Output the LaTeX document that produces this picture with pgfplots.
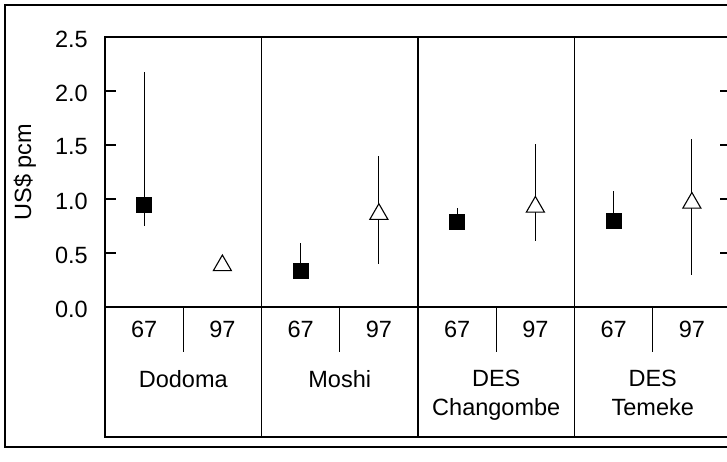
\documentclass[border=0pt]{standalone}
\usepackage{pgfplots}
\pgfplotsset{compat=1.18}
\usepackage{fontspec}
\setmainfont{Liberation Sans}
\begin{document}
\begin{tikzpicture}[x=1pt,y=1pt,font=\fontsize{23.5}{28.5}\selectfont]
\begin{axis}[
  at={(105pt,-307pt)}, anchor=south west,
  scale only axis, width=626pt, height=270pt,
  xmin=0, xmax=8, ymin=0, ymax=2.5,
  clip=false,
  axis line style={line width=1.3pt, black},
  ytick={0,0.5,1,1.5,2,2.5},
  tick align=inside, major tick length=11pt,
  tick style={line width=1.3pt, black},
  /pgf/number format/assume math mode=true,
  yticklabel style={/pgf/number format/.cd, fixed, fixed zerofill, precision=1, /tikz/.cd, anchor=east, inner sep=0pt, xshift=-17pt, yshift=-2pt},
  xtick={0.5,1.5,2.5,3.5,4.5,5.5,6.5,7.5},
  xticklabels={67,97,67,97,67,97,67,97},
  x tick style={draw=none},
  xticklabel style={anchor=base, inner sep=0pt, yshift=-30.7pt},
  ylabel={US\$ pcm},
  every axis y label/.style={at={(rel axis cs:-0.128,0.5)}, rotate=90, anchor=center},
]
% 1967 survey: filled squares
\addplot[only marks, black, mark=square*, mark size=7.5pt,
  error bars/.cd, y dir=both, y explicit, error mark=none,
  error bar style={line width=1.1pt, black}]
  table[x=x, y=y, y error plus=ep, y error minus=em] {
x   y     ep    em
0.5 0.944 1.236 0.194
2.5 0.333 0.262 0.05
4.5 0.790 0.124 0.05
6.5 0.800 0.277 0.05
};
% 1997 survey: open triangles
\addplot[only marks, black, mark=triangle*, mark size=10.4pt,
  mark options={fill=white, draw=black, line width=1.1pt},
  error bars/.cd, y dir=both, y explicit, error mark=none,
  error bar style={line width=1.1pt, black}]
  table[x=x, y=y, y error plus=ep, y error minus=em] {
x   y     ep    em
1.5 0.385 0     0
3.5 0.860 0.540 0.460
5.5 0.927 0.579 0.313
7.5 0.964 0.596 0.668
};
% y tick marks (left side)
\draw[line width=1.5pt, black] (rel axis cs:0,0.2) -- (rel axis cs:0.0176,0.2);
\draw[line width=1.5pt, black] (rel axis cs:0,0.4) -- (rel axis cs:0.0176,0.4);
\draw[line width=1.5pt, black] (rel axis cs:0,0.6) -- (rel axis cs:0.0176,0.6);
\draw[line width=1.5pt, black] (rel axis cs:0,0.8) -- (rel axis cs:0.0176,0.8);
% table below the plot
\draw[line width=1.3pt] (axis cs:0,0) -- (axis cs:0,-1.204) -- (axis cs:8.3,-1.204);
\draw[line width=1.3pt] (axis cs:2,2.5) -- (axis cs:2,-1.204);
\draw[line width=1.3pt] (axis cs:4,2.5) -- (axis cs:4,-1.204);
\draw[line width=1.3pt] (axis cs:6,2.5) -- (axis cs:6,-1.204);
\draw[line width=1.3pt] (axis cs:8,2.5) -- (axis cs:8,-1.204);
\draw[line width=1.3pt] (axis cs:1,0) -- (axis cs:1,-0.417);
\draw[line width=1.3pt] (axis cs:3,0) -- (axis cs:3,-0.417);
\draw[line width=1.3pt] (axis cs:5,0) -- (axis cs:5,-0.417);
\draw[line width=1.3pt] (axis cs:7,0) -- (axis cs:7,-0.417);
\node[anchor=base, inner sep=0pt, align=center] at (axis cs:1,-0.741) {Dodoma};
\node[anchor=base, inner sep=0pt, align=center] at (axis cs:3,-0.741) {Moshi};
\node[anchor=base, inner sep=0pt, align=center] at (axis cs:5,-1.0) {DES\\Changombe};
\node[anchor=base, inner sep=0pt, align=center] at (axis cs:7,-1.0) {DES\\Temeke};
\end{axis}
\draw[line width=1.3pt] (5,-5) rectangle (745,-447);
\pgfresetboundingbox
\useasboundingbox (0,0) rectangle (727,-461);
\end{tikzpicture}
\end{document}
